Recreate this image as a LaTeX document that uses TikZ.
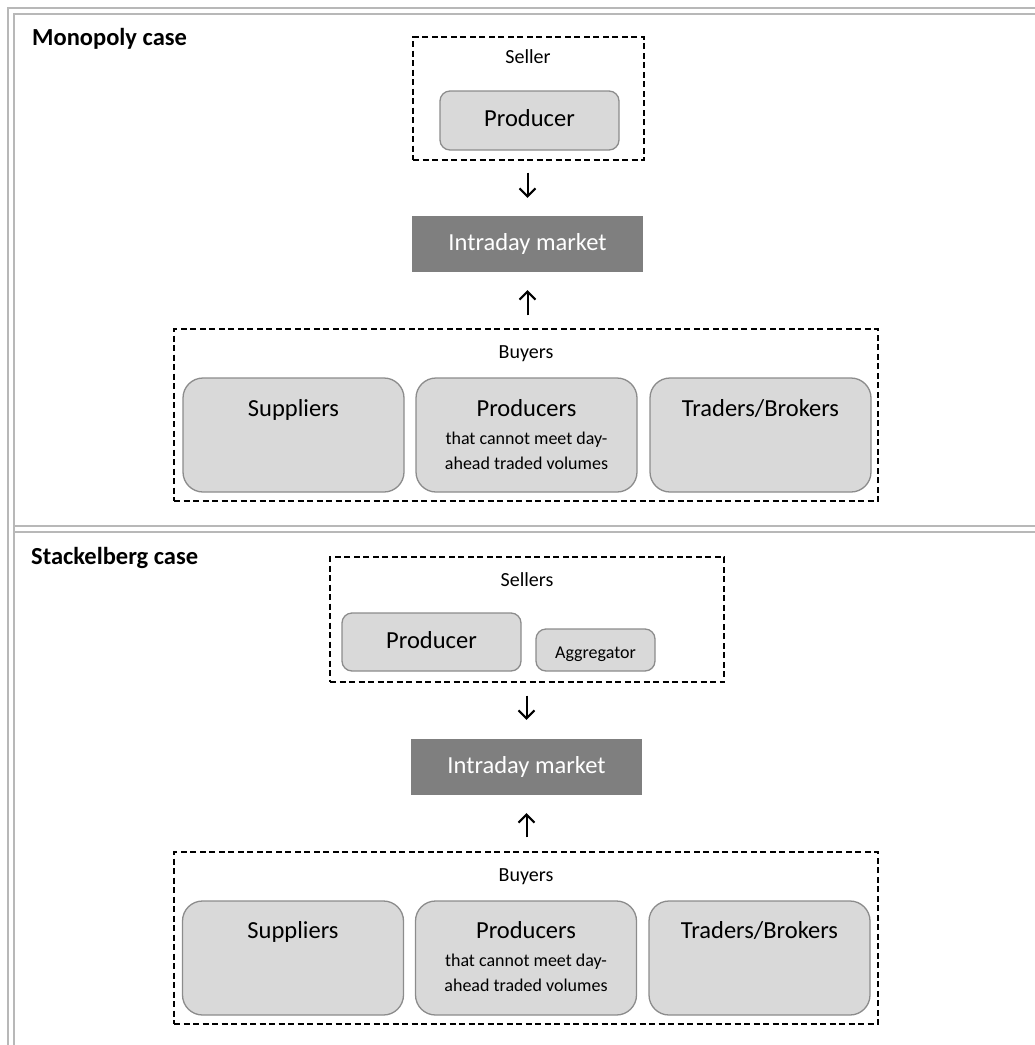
\documentclass[tikz,border=0pt]{standalone}
\usepackage{fontspec}
\setmainfont{Carlito}
\usetikzlibrary{arrows.meta}

\definecolor{framegray}{HTML}{B8B8B8}
\definecolor{boxfill}{HTML}{D9D9D9}
\definecolor{boxline}{HTML}{8C8C8C}
\definecolor{marketfill}{HTML}{7F7F7F}

\tikzset{
  frameline/.style={draw=framegray, line width=1.6pt},
  title/.style={font=\fontsize{24.5}{29}\selectfont\bfseries, anchor=west, inner sep=0pt},
  group/.style={draw=black, dash pattern=on 6pt off 3.5pt, line width=1.4pt, inner sep=0pt},
  grouplabel/.style={font=\fontsize{20}{24}\selectfont, inner sep=0pt, anchor=base},
  actor/.style={draw=boxline, fill=boxfill, line width=1.3pt, rounded corners=10pt, inner sep=0pt},
  bigactor/.style={actor, rounded corners=20pt, minimum width=221pt, minimum height=114pt},
  bigtext/.style={font=\fontsize{24.5}{29}\selectfont, inner sep=0pt, anchor=base},
  smalltext/.style={font=\fontsize{18}{25}\selectfont, inner sep=0pt, anchor=base},
  market/.style={fill=marketfill, text=white, font=\fontsize{24.5}{29}\selectfont,
                 inner sep=0pt, minimum width=231pt, minimum height=56pt},
  flow/.style={-{Straight Barb[length=8pt,width=16pt]}, line width=2pt},
}

\begin{document}
\begin{tikzpicture}[x=1pt, y=-1pt]
  \useasboundingbox (0,0) rectangle (1035,1045);

  % table frame
  \draw[frameline] (8,1045) -- (8,8) -- (1035,8);
  \draw[frameline] (14,1045) -- (14,14) -- (1035,14);
  \draw[frameline] (14,526) -- (1035,526);
  \draw[frameline] (14,532) -- (1035,532);

  % ---------------- Monopoly case ----------------
  \node[title] (t1) at (32,39) {Monopoly case};

  \node[group, minimum width=231pt, minimum height=123pt] (seller) at (528.5,98.5) {};
  \node[grouplabel] (sellerlbl) at (528,63) {Seller};
  \node[actor, minimum width=179pt, minimum height=59pt] (prod1) at (529.5,120.5) {};
  \node[bigtext] (prod1t) at (529.5,126) {Producer};

  \node[market] (im1) at (527.5,244) {Intraday market};

  \node[group, minimum width=704pt, minimum height=172pt] (buy1) at (526,415) {};
  \node[grouplabel] (buy1lbl) at (526,358) {Buyers};

  \node[bigactor] (sup1) at (293.5,435) {};
  \node[bigtext] (sup1t) at (293.5,416) {Suppliers};
  \node[bigactor] (pro1) at (526.5,435) {};
  \node[bigtext] (pro1t) at (526.5,416) {Producers};
  \node[smalltext] (pro1a) at (526.5,444) {that cannot meet day-};
  \node[smalltext] (pro1b) at (526.5,469) {ahead traded volumes};
  \node[bigactor] (tra1) at (760.5,435) {};
  \node[bigtext] (tra1t) at (760.5,416) {Traders/Brokers};

  \draw[flow, shorten <=12pt, shorten >=18pt] (seller.south -| im1.north) -- (im1.north);
  \draw[flow, shorten <=13pt, shorten >=18pt] (buy1.north -| im1.south) -- (im1.south);

  % ---------------- Stackelberg case ----------------
  \node[title] (t2) at (31,558) {Stackelberg case};

  \node[group, minimum width=394pt, minimum height=125pt] (sellers) at (527,619.5) {};
  \node[grouplabel] (sellerslbl) at (527,586) {Sellers};
  \node[actor, minimum width=179pt, minimum height=58pt] (prod2) at (431.5,642) {};
  \node[bigtext] (prod2t) at (431.5,648) {Producer};
  \node[actor, minimum width=119pt, minimum height=42pt] (agg) at (595.5,650) {};
  \node[smalltext] (aggt) at (595.5,658) {Aggregator};

  \node[market] (im2) at (526.5,767) {Intraday market};

  \node[group, minimum width=704pt, minimum height=172pt] (buy2) at (526,938) {};
  \node[grouplabel] (buy2lbl) at (526,881) {Buyers};

  \node[bigactor] (sup2) at (293,958) {};
  \node[bigtext] (sup2t) at (293,938) {Suppliers};
  \node[bigactor] (pro2) at (526,958) {};
  \node[bigtext] (pro2t) at (526,938) {Producers};
  \node[smalltext] (pro2a) at (526,966) {that cannot meet day-};
  \node[smalltext] (pro2b) at (526,991) {ahead traded volumes};
  \node[bigactor] (tra2) at (759.5,958) {};
  \node[bigtext] (tra2t) at (759.5,938) {Traders/Brokers};

  \draw[flow, shorten <=13pt, shorten >=19pt] (sellers.south -| im2.north) -- (im2.north);
  \draw[flow, shorten <=14pt, shorten >=18pt] (buy2.north -| im2.south) -- (im2.south);
\end{tikzpicture}
\end{document}
